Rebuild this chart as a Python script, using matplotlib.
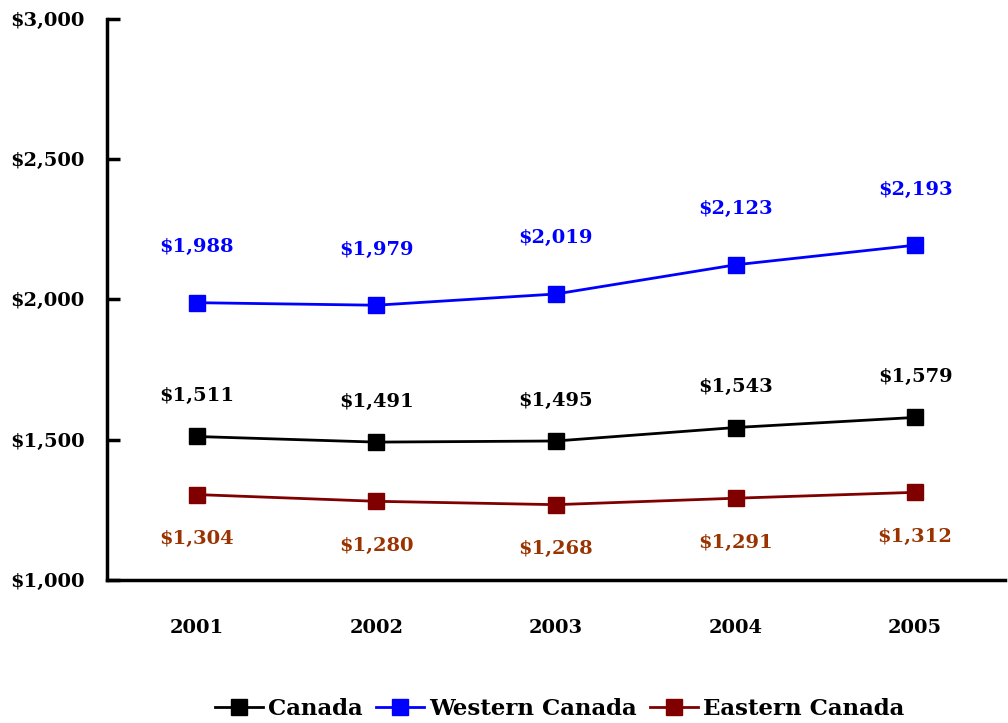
import matplotlib.pyplot as plt
from matplotlib.ticker import FuncFormatter

years = ["2001", "2002", "2003", "2004", "2005"]
canada = [1511, 1491, 1495, 1543, 1579]
western = [1988, 1979, 2019, 2123, 2193]
eastern = [1304, 1280, 1268, 1291, 1312]

plt.rcParams["font.family"] = ["DejaVu Serif"]
plt.rcParams["font.weight"] = "bold"

fig = plt.figure(figsize=(10.08, 7.23), dpi=100)
ax = fig.add_axes([0.106, 0.198, 0.891, 0.776])

x = list(range(len(years)))
series = [
    ("Canada", canada, "#000000", "#000000", 29),
    ("Western Canada", western, "#0000FF", "#0000FF", 40),
    ("Eastern Canada", eastern, "#800000", "#993300", -32),
]
for name, vals, col, lab_col, off in series:
    ax.plot(x, vals, color=col, lw=2, marker="s", ms=11.5, label=name)
    for xi, v in zip(x, vals):
        ax.annotate(f"${v:,}", (xi, v), xytext=(0, off), textcoords="offset points",
                    ha="center", va="center", color=lab_col, fontsize=14, fontweight="bold")

ax.set_xlim(-0.5, 4.5)
ax.set_ylim(1000, 3000)
ax.set_yticks([1000, 1500, 2000, 2500, 3000])
ax.yaxis.set_major_formatter(FuncFormatter(lambda v, p: f"${int(v):,}"))
ax.set_xticks(x)
ax.set_xticklabels(years)
ax.tick_params(axis="y", direction="in", length=9, width=2.5, labelsize=14, pad=16)
ax.tick_params(axis="x", length=0, labelsize=14, pad=28)
for s in ["top", "right"]:
    ax.spines[s].set_visible(False)
for s in ["left", "bottom"]:
    ax.spines[s].set_linewidth(2.5)

fig.legend(loc="lower center", bbox_to_anchor=(0.555, -0.024), ncol=3, frameon=False,
           fontsize=16.5, handlelength=2.1, handletextpad=0.2, columnspacing=0.6)

fig.savefig("out.png", dpi=100)
